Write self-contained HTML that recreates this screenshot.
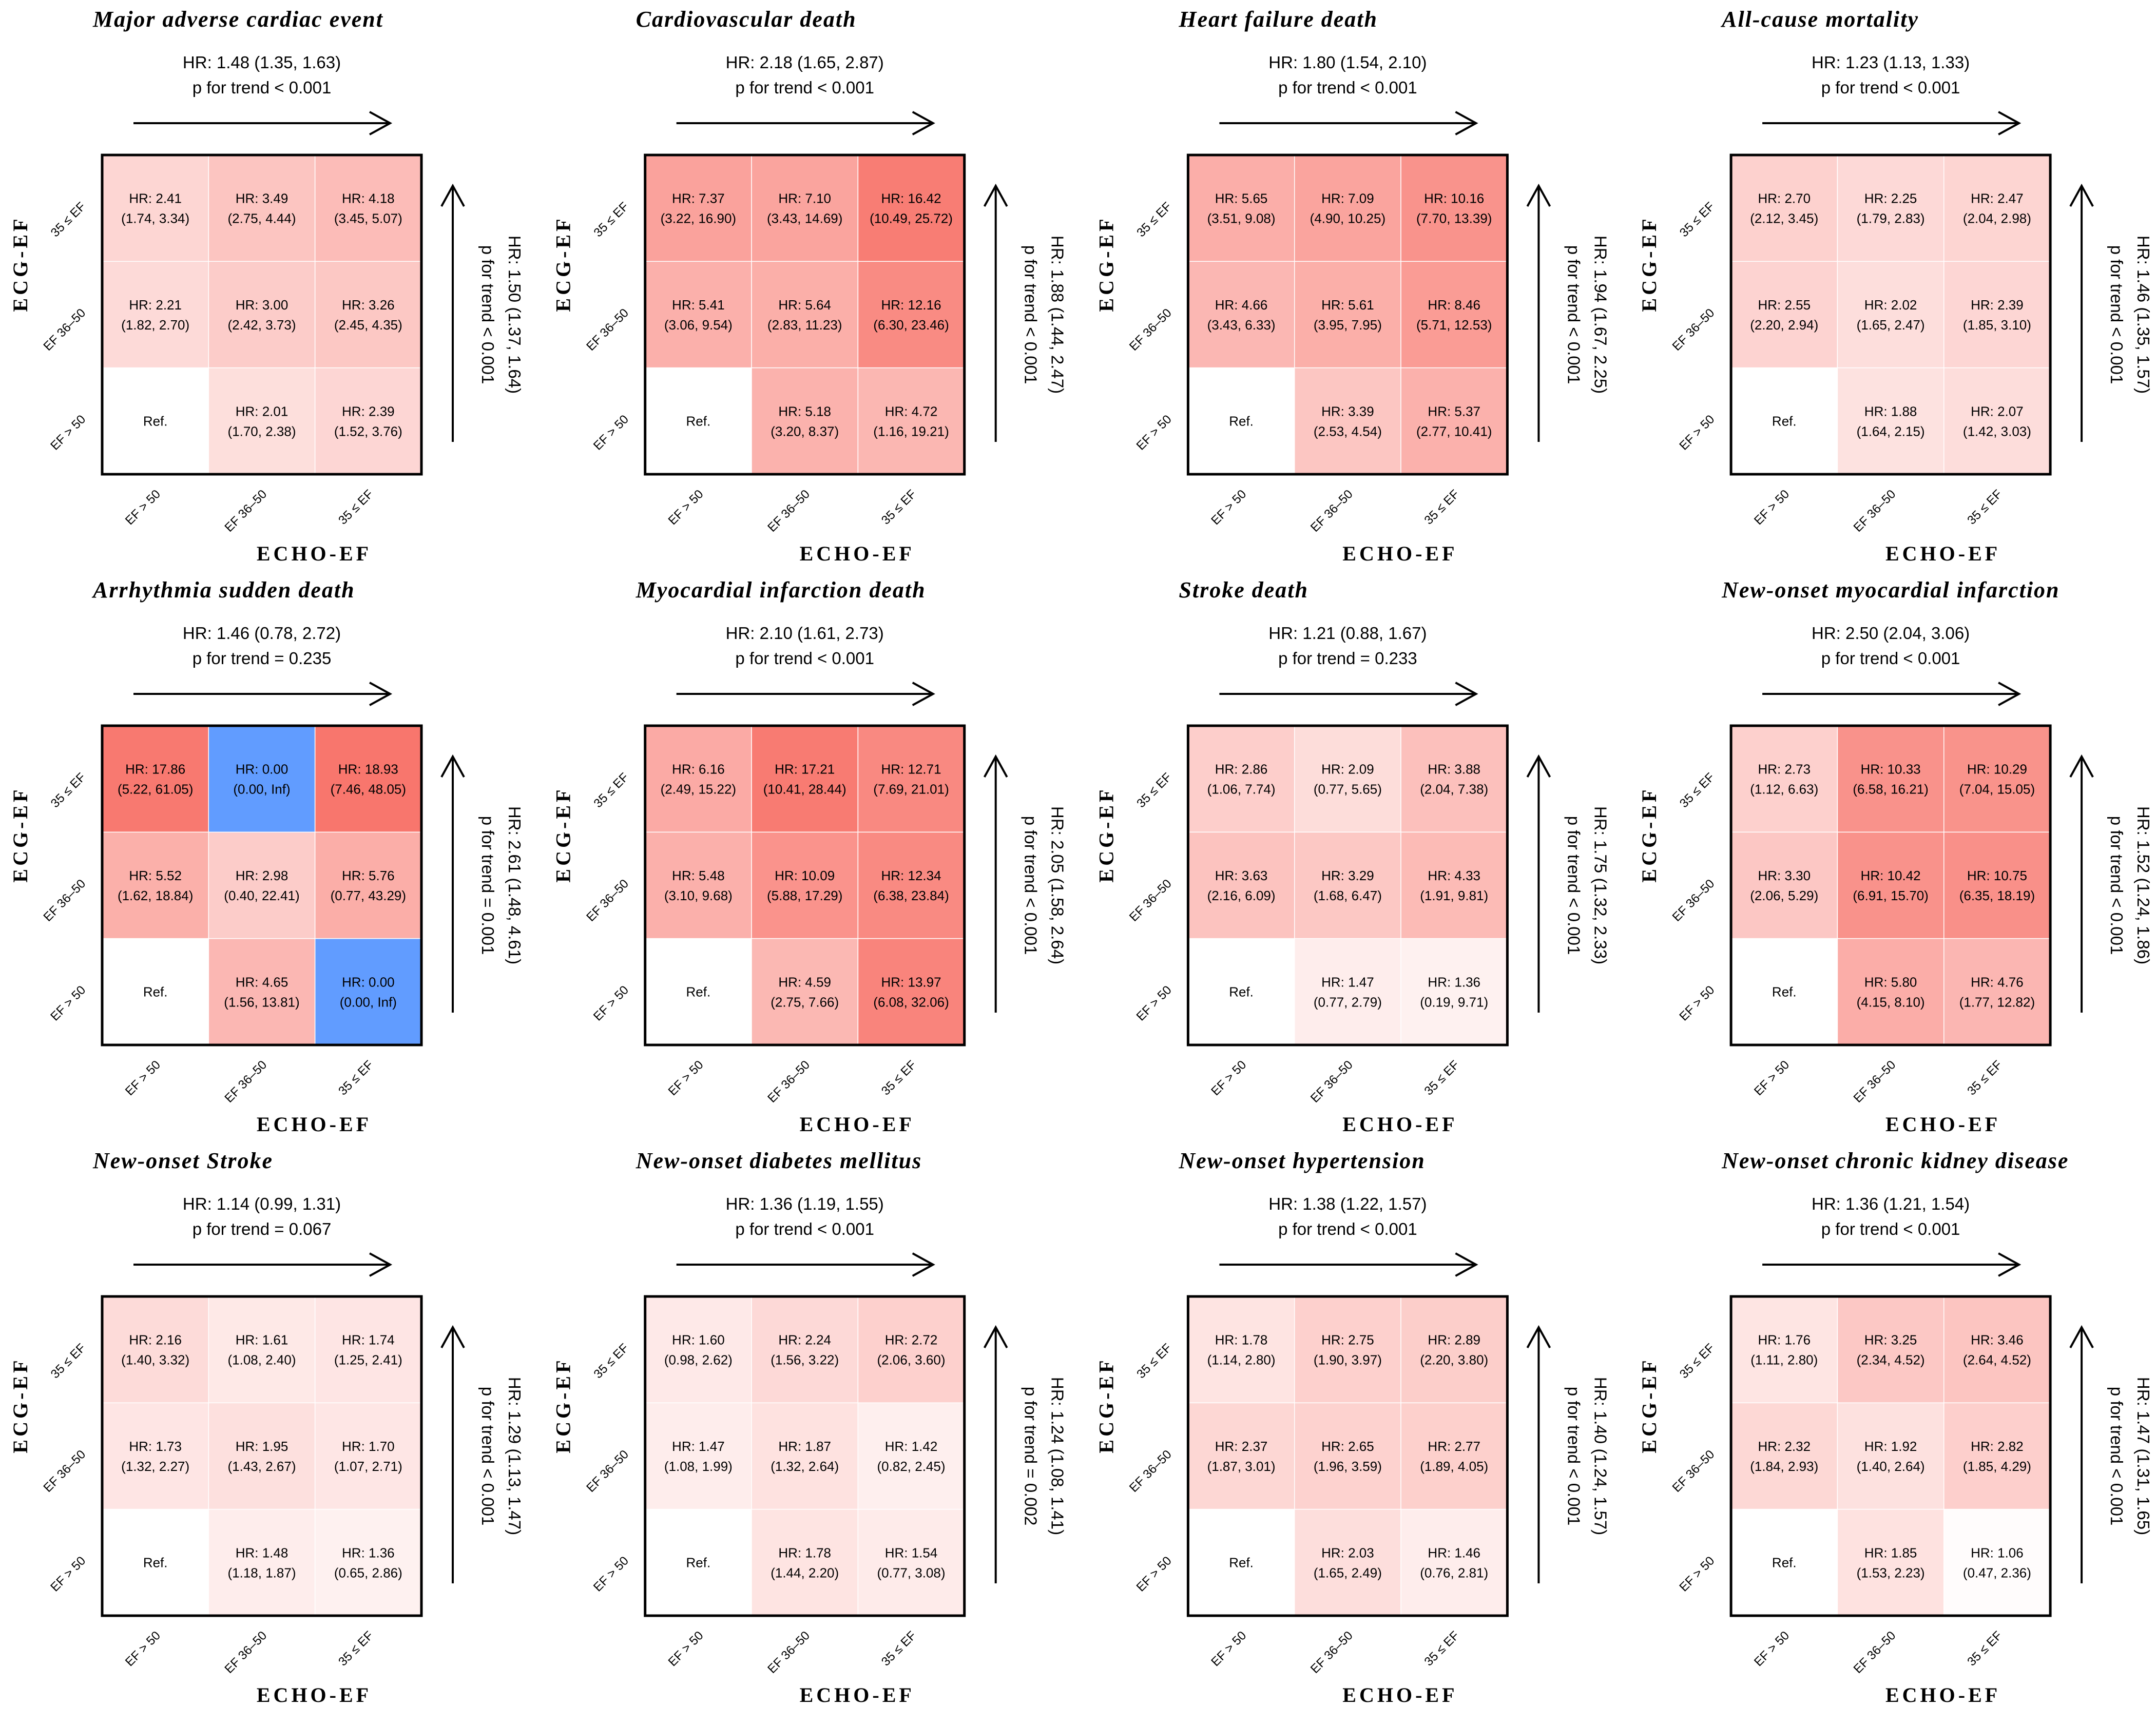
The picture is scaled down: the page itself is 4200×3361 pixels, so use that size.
<!DOCTYPE html>
<html><head><meta charset="utf-8"><style>
html,body{margin:0;padding:0;background:#fff;}
svg{display:block;}
.t{font-family:"Liberation Serif",serif;font-weight:bold;font-style:italic;font-size:44px;letter-spacing:2px;}
.s{font-family:"Liberation Sans",sans-serif;font-size:33px;}
.c{font-family:"Liberation Sans",sans-serif;font-size:26px;}
.k{font-family:"Liberation Sans",sans-serif;font-size:24px;}
.a{font-family:"Liberation Serif",serif;font-weight:bold;font-size:40px;letter-spacing:6px;}
</style></head><body>
<svg id="chart" width="4200" height="3361" viewBox="0 0 4200 3361" xmlns="http://www.w3.org/2000/svg"></svg>
<script>
const titles=["Major adverse cardiac event","Cardiovascular death","Heart failure death","All-cause mortality","Arrhythmia sudden death","Myocardial infarction death","Stroke death","New-onset myocardial infarction","New-onset Stroke","New-onset diabetes mellitus","New-onset hypertension","New-onset chronic kidney disease"];
const topHR=["HR: 1.48 (1.35, 1.63)","HR: 2.18 (1.65, 2.87)","HR: 1.80 (1.54, 2.10)","HR: 1.23 (1.13, 1.33)","HR: 1.46 (0.78, 2.72)","HR: 2.10 (1.61, 2.73)","HR: 1.21 (0.88, 1.67)","HR: 2.50 (2.04, 3.06)","HR: 1.14 (0.99, 1.31)","HR: 1.36 (1.19, 1.55)","HR: 1.38 (1.22, 1.57)","HR: 1.36 (1.21, 1.54)"];
const topP=["p for trend < 0.001","p for trend < 0.001","p for trend < 0.001","p for trend < 0.001","p for trend = 0.235","p for trend < 0.001","p for trend = 0.233","p for trend < 0.001","p for trend = 0.067","p for trend < 0.001","p for trend < 0.001","p for trend < 0.001"];
const rightHR=["HR: 1.50 (1.37, 1.64)","HR: 1.88 (1.44, 2.47)","HR: 1.94 (1.67, 2.25)","HR: 1.46 (1.35, 1.57)","HR: 2.61 (1.48, 4.61)","HR: 2.05 (1.58, 2.64)","HR: 1.75 (1.32, 2.33)","HR: 1.52 (1.24, 1.86)","HR: 1.29 (1.13, 1.47)","HR: 1.24 (1.08, 1.41)","HR: 1.40 (1.24, 1.57)","HR: 1.47 (1.31, 1.65)"];
const rightP=["p for trend < 0.001","p for trend < 0.001","p for trend < 0.001","p for trend < 0.001","p for trend = 0.001","p for trend < 0.001","p for trend < 0.001","p for trend < 0.001","p for trend < 0.001","p for trend = 0.002","p for trend < 0.001","p for trend < 0.001"];
const rowLabels=["35 \u2264 EF","EF 36\u201350","EF > 50"];
const colLabels=["EF > 50","EF 36\u201350","35 \u2264 EF"];
const hrVals=[
[2.41,3.49,4.18,2.21,3.00,3.26,null,2.01,2.39],
[7.37,7.10,16.42,5.41,5.64,12.16,null,5.18,4.72],
[5.65,7.09,10.16,4.66,5.61,8.46,null,3.39,5.37],
[2.70,2.25,2.47,2.55,2.02,2.39,null,1.88,2.07],
[17.86,0.00,18.93,5.52,2.98,5.76,null,4.65,0.00],
[6.16,17.21,12.71,5.48,10.09,12.34,null,4.59,13.97],
[2.86,2.09,3.88,3.63,3.29,4.33,null,1.47,1.36],
[2.73,10.33,10.29,3.30,10.42,10.75,null,5.80,4.76],
[2.16,1.61,1.74,1.73,1.95,1.70,null,1.48,1.36],
[1.60,2.24,2.72,1.47,1.87,1.42,null,1.78,1.54],
[1.78,2.75,2.89,2.37,2.65,2.77,null,2.03,1.46],
[1.76,3.25,3.46,2.32,1.92,2.82,null,1.85,1.06]];
const ciLow=[
[1.74,2.75,3.45,1.82,2.42,2.45,null,1.70,1.52],
[3.22,3.43,10.49,3.06,2.83,6.30,null,3.20,1.16],
[3.51,4.90,7.70,3.43,3.95,5.71,null,2.53,2.77],
[2.12,1.79,2.04,2.20,1.65,1.85,null,1.64,1.42],
[5.22,0.00,7.46,1.62,0.40,0.77,null,1.56,0.00],
[2.49,10.41,7.69,3.10,5.88,6.38,null,2.75,6.08],
[1.06,0.77,2.04,2.16,1.68,1.91,null,0.77,0.19],
[1.12,6.58,7.04,2.06,6.91,6.35,null,4.15,1.77],
[1.40,1.08,1.25,1.32,1.43,1.07,null,1.18,0.65],
[0.98,1.56,2.06,1.08,1.32,0.82,null,1.44,0.77],
[1.14,1.90,2.20,1.87,1.96,1.89,null,1.65,0.76],
[1.11,2.34,2.64,1.84,1.40,1.85,null,1.53,0.47]];
const ciHigh=[
[3.34,4.44,5.07,2.70,3.73,4.35,null,2.38,3.76],
[16.90,14.69,25.72,9.54,11.23,23.46,null,8.37,19.21],
[9.08,10.25,13.39,6.33,7.95,12.53,null,4.54,10.41],
[3.45,2.83,2.98,2.94,2.47,3.10,null,2.15,3.03],
[61.05,Infinity,48.05,18.84,22.41,43.29,null,13.81,Infinity],
[15.22,28.44,21.01,9.68,17.29,23.84,null,7.66,32.06],
[7.74,5.65,7.38,6.09,6.47,9.81,null,2.79,9.71],
[6.63,16.21,15.05,5.29,15.70,18.19,null,8.10,12.82],
[3.32,2.40,2.41,2.27,2.67,2.71,null,1.87,2.86],
[2.62,3.22,3.60,1.99,2.64,2.45,null,2.20,3.08],
[2.80,3.97,3.80,3.01,3.59,4.05,null,2.49,2.81],
[2.80,4.52,4.52,2.93,2.64,4.29,null,2.23,2.36]];

const NS="http://www.w3.org/2000/svg";
const svg=document.getElementById('chart');
function mk(tag,attrs,parent,txt){const e=document.createElementNS(NS,tag);for(const k in attrs)e.setAttribute(k,attrs[k]);if(txt!==undefined)e.textContent=txt;parent.appendChild(e);return e;}
const BOX=622, CELL=BOX/3;
function fmt(v){return v===Infinity?"Inf":v.toFixed(2);}
function color(v){
  if(v===null) return "#ffffff";
  if(v<=0) return "#619CFF";
  let t=Math.log(Math.max(v,1))/Math.log(19); t=Math.min(1,Math.max(0,t));
  const r=Math.round(255-t*(255-248)), g=Math.round(255-t*(255-118)), b=Math.round(255-t*(255-109));
  return `rgb(${r},${g},${b})`;
}
function arrow(g,x1,y1,x2,y2,horiz){
  mk('line',{x1,y1,x2,y2,stroke:'#000','stroke-width':4},g);
  if(horiz){mk('polyline',{points:`${x2-40},${y2-22} ${x2},${y2} ${x2-40},${y2+22}`,fill:'none',stroke:'#000','stroke-width':4},g);}
  else{mk('polyline',{points:`${x2-22},${y2+40} ${x2},${y2} ${x2+22},${y2+40}`,fill:'none',stroke:'#000','stroke-width':4},g);}
}
for(let p=0;p<12;p++){
  const col=p%4,row=Math.floor(p/4);
  const bx=199+col*1057.7, by=302+row*1112;
  const g=mk('g',{transform:`translate(${bx},${by})`},svg);
  
  
  const t=mk('text',{x:-18,y:-250,class:'t'},g,titles[p]);
  
  
  const h1=mk('text',{x:311,y:-169,class:'s','text-anchor':'middle'},g,topHR[p]);
  
  
  const h2=mk('text',{x:311,y:-120,class:'s','text-anchor':'middle'},g,topP[p]);
  
  
  const ah=mk('g',{},g);
  
  
  arrow(ah,61,-62,561,-62,true);
  const av=mk('g',{},g);
  
  
  arrow(av,683,559,683,60,false);
  for(let i=0;i<9;i++){
    const r=Math.floor(i/3),c=i%3,v=hrVals[p][i];
    const x=c*CELL,y=r*CELL;
    const rect=mk('rect',{x,y,width:CELL,height:CELL,fill:color(v),stroke:'#fff','stroke-width':1.5},g);
    
    
    const cx=x+CELL/2,cy=y+CELL/2;
    if(v===null){
      const tt=mk('text',{x:cx,y:cy+9,class:'c','text-anchor':'middle'},g,'Ref.');
      
      
    }else{
      const t1=mk('text',{x:cx,y:cy-10,class:'c','text-anchor':'middle'},g,'HR: '+fmt(v));
      
      
      const t2=mk('text',{x:cx,y:cy+29,class:'c','text-anchor':'middle'},g,'('+fmt(ciLow[p][i])+', '+fmt(ciHigh[p][i])+')');
      
      
    }
  }
  const bd=mk('rect',{x:0,y:0,width:BOX,height:BOX,fill:'none',stroke:'#000','stroke-width':5},g);
  
  
  for(let r=0;r<3;r++){
    const ty=r*CELL+CELL/2-2;
    const rl=mk('text',{x:-31,y:ty,class:'k','text-anchor':'end',transform:`rotate(-45 -31 ${ty})`},g,rowLabels[r]);
    
    
  }
  for(let c=0;c<3;c++){
    const tx=c*CELL+CELL/2+11;
    const cl=mk('text',{x:tx,y:662,class:'k','text-anchor':'end',transform:`rotate(-45 ${tx} 662)`},g,colLabels[c]);
    
    
  }
  const xa=mk('text',{x:413,y:790,class:'a','text-anchor':'middle'},g,'ECHO-EF');
  
  
  const ya=mk('text',{x:0,y:0,class:'a','text-anchor':'middle',transform:`translate(-146,212) rotate(-90)`},g,'ECG-EF');
  
  
  const r1=mk('text',{x:0,y:0,class:'s','text-anchor':'middle',transform:`translate(792,311) rotate(90)`},g,rightHR[p]);
  
  
  const r2=mk('text',{x:0,y:0,class:'s','text-anchor':'middle',transform:`translate(740,311) rotate(90)`},g,rightP[p]);
  
  
}
</script>
</body></html>
